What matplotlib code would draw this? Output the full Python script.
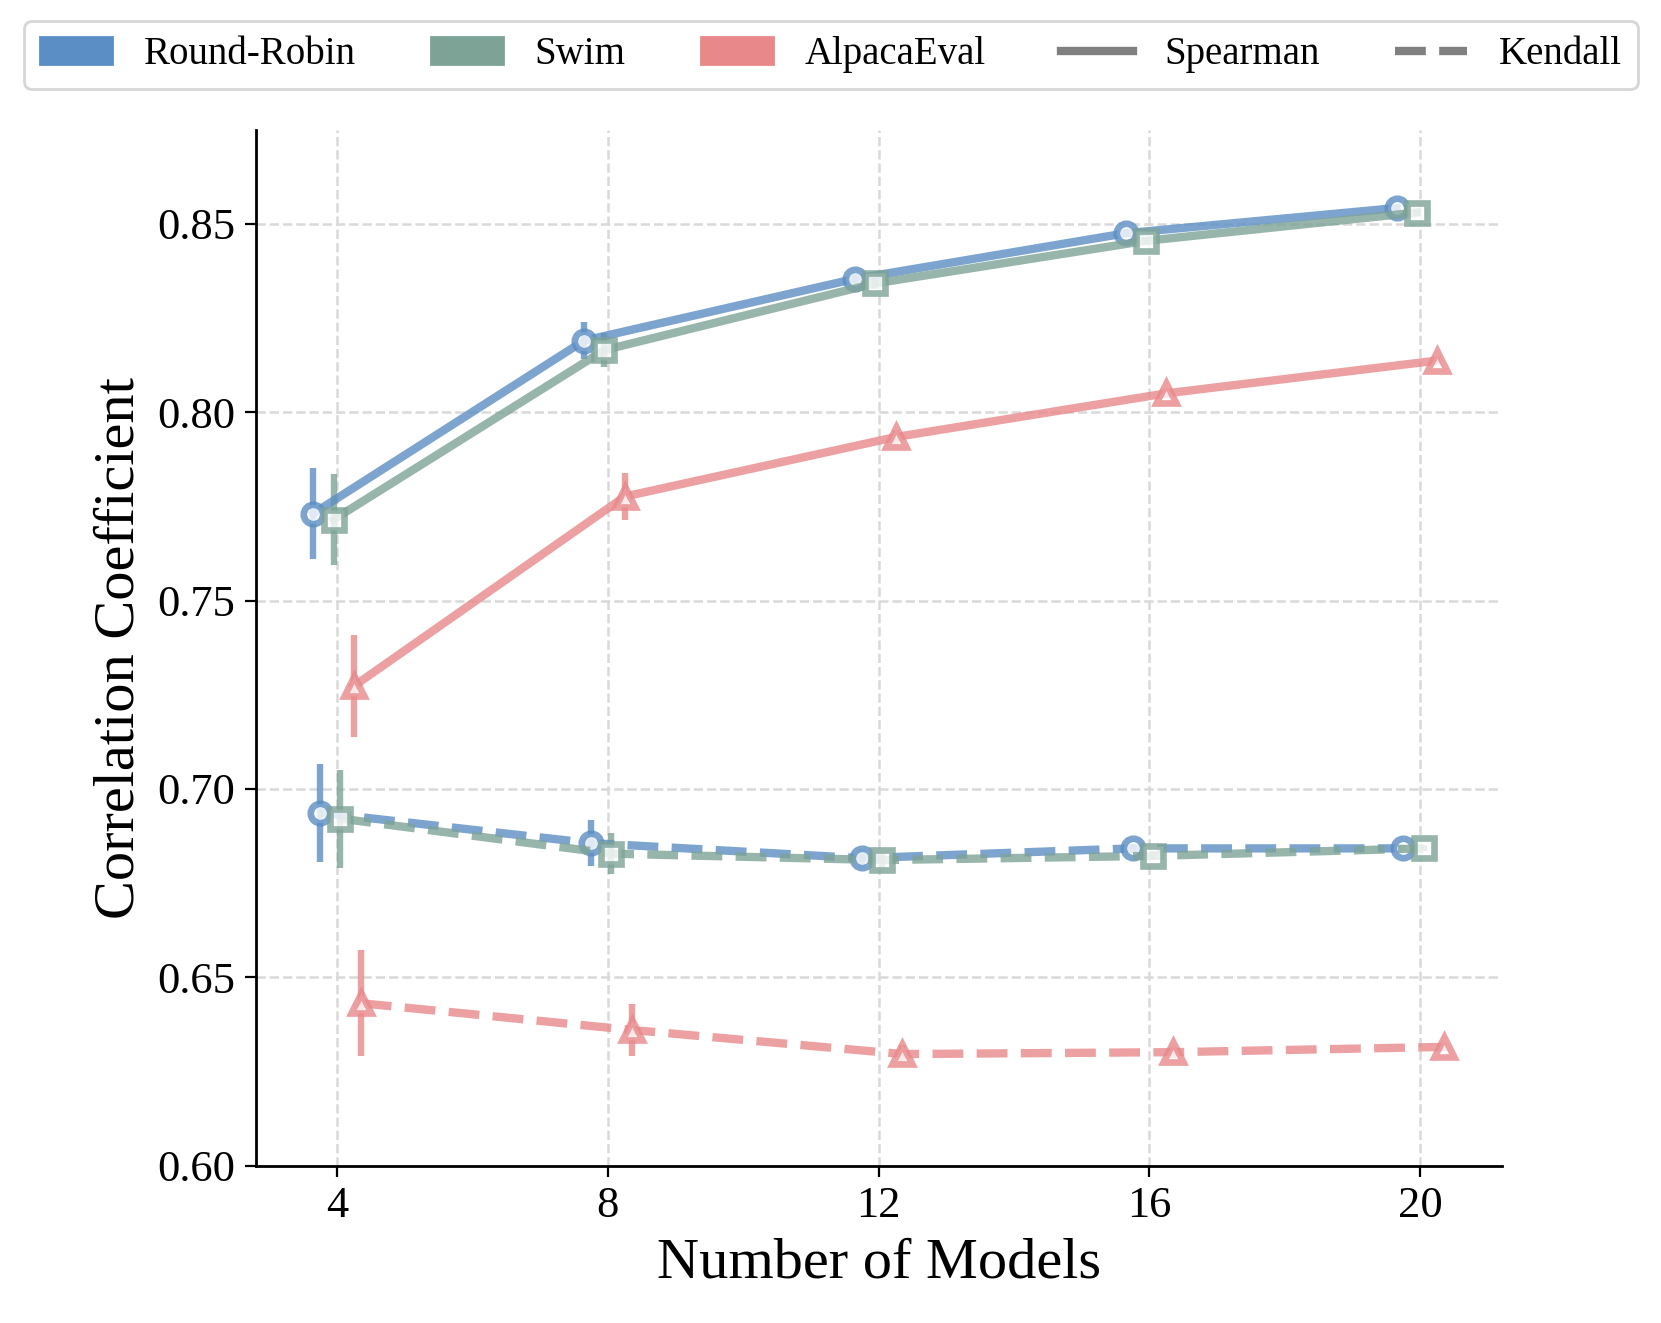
import matplotlib
matplotlib.use("Agg")
import matplotlib.pyplot as plt
from matplotlib.patches import Patch
from matplotlib.lines import Line2D
import numpy as np

plt.rcParams['font.family'] = ['Liberation Serif', 'DejaVu Serif']

# datos
n_modelos = [4, 8, 12, 16, 20]
metodos = ['Round-Robin', 'Swim', 'AlpacaEval']
colores = ['#5b8ec4', '#7da396', '#e8888a']
marcadores = ['o', 's', '^']

spearman = {
    'Round-Robin': [0.7731, 0.8190, 0.8354, 0.8475, 0.8542],
    'Swim':        [0.7715, 0.8165, 0.8342, 0.8455, 0.8530],
    'AlpacaEval':  [0.7273, 0.7776, 0.7934, 0.8050, 0.8137],
}
spearman_err = {
    'Round-Robin': [0.0120, 0.0050, 0.0015, 0.0010, 0.0008],
    'Swim':        [0.0122, 0.0045, 0.0015, 0.0010, 0.0008],
    'AlpacaEval':  [0.0135, 0.0062, 0.0020, 0.0012, 0.0010],
}
kendall = {
    'Round-Robin': [0.6937, 0.6856, 0.6816, 0.6842, 0.6842],
    'Swim':        [0.6921, 0.6828, 0.6811, 0.6822, 0.6842],
    'AlpacaEval':  [0.6431, 0.6360, 0.6296, 0.6301, 0.6315],
}
kendall_err = {
    'Round-Robin': [0.0130, 0.0062, 0.0025, 0.0012, 0.0008],
    'Swim':        [0.0130, 0.0055, 0.0020, 0.0012, 0.0008],
    'AlpacaEval':  [0.0140, 0.0068, 0.0025, 0.0015, 0.0010],
}
desp_spearman = [-0.35, -0.05, 0.25]  # desplazamiento en x
desp_kendall = [-0.25, 0.05, 0.35]

fig, ax = plt.subplots(figsize=(8.305, 6.615), dpi=200)
fig.subplots_adjust(left=0.154, right=0.904, top=0.902, bottom=0.119)

x = np.array(n_modelos, dtype=float)
for i, m in enumerate(metodos):
    for vals, errs, desp, ls in [(spearman[m], spearman_err[m], desp_spearman[i], '-'),
                                 (kendall[m], kendall_err[m], desp_kendall[i], '--')]:
        ax.errorbar(x + desp, vals, yerr=errs, color=colores[i], ls=ls, lw=3.0,
                    marker=marcadores[i], ms=7, mew=2.4, mfc='white',
                    mec=colores[i], elinewidth=2.3, capsize=0, alpha=0.8,
                    zorder=3)

ax.set_xlim(2.8, 21.2)
ax.set_ylim(0.6, 0.875)
ax.set_xticks(n_modelos)
ax.set_yticks([0.60, 0.65, 0.70, 0.75, 0.80, 0.85])
ax.set_yticklabels(['0.60', '0.65', '0.70', '0.75', '0.80', '0.85'])
ax.tick_params(labelsize=16, length=4, width=0.8, direction='out')
ax.grid(True, ls='--', color='#d9d9d9', lw=0.9)
ax.set_axisbelow(True)
for s in ['top', 'right']:
    ax.spines[s].set_visible(False)
ax.spines['left'].set_linewidth(1.0)
ax.spines['bottom'].set_linewidth(1.0)
ax.set_xlabel('Number of Models', fontsize=21)
ax.set_ylabel('Correlation Coefficient', fontsize=21)

manejadores = [Patch(color=c, label=m) for c, m in zip(colores, metodos)]
manejadores += [Line2D([0], [0], color='gray', lw=3.0, ls='-', label='Spearman'),
                Line2D([0], [0], color='gray', lw=3.0, ls='--', label='Kendall')]
fig.legend(handles=manejadores, loc='upper left', bbox_to_anchor=(0.003, 0.999),
           ncol=5, fontsize=14, frameon=True, fancybox=True, edgecolor='#cccccc',
           handlelength=1.85, columnspacing=1.93, handletextpad=0.82)

fig.savefig('out.png', dpi=200)
